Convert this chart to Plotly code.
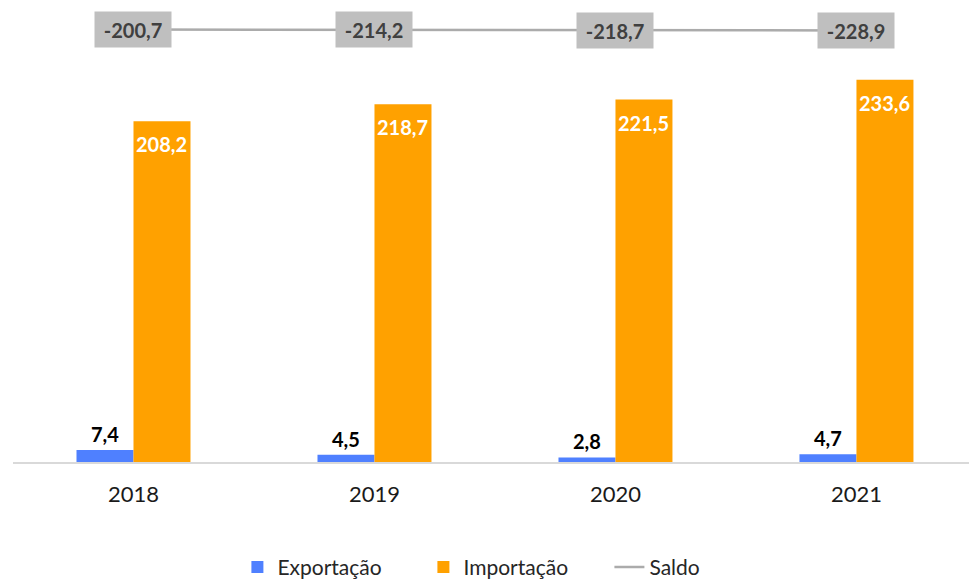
import plotly.graph_objects as go

# Balança comercial (valores por ano)
anos = ["2018", "2019", "2020", "2021"]
exportacao = [7.4, 4.5, 2.8, 4.7]
importacao = [208.2, 218.7, 221.5, 233.6]
saldo = [-200.7, -214.2, -218.7, -228.9]

AZUL = "#4F80FF"
LARANJA = "#FFA100"
CINZA_LINHA = "#ABABAB"
CINZA_CAIXA = "#BFBFBF"
FONTE = "Lato"


def fmt(v):
    return f"{v:.1f}".replace(".", ",")


fig = go.Figure()

fig.add_trace(go.Bar(
    name="Exportação", x=anos, y=exportacao,
    marker=dict(color=AZUL, line=dict(width=0)),
    hoverinfo="skip",
))
fig.add_trace(go.Bar(
    name="Importação", x=anos, y=importacao,
    marker=dict(color=LARANJA, line=dict(width=0)),
    hoverinfo="skip",
))
fig.add_trace(go.Scatter(
    name="Saldo", x=anos, y=saldo, yaxis="y2", mode="lines",
    line=dict(color=CINZA_LINHA, width=2.5),
    hoverinfo="skip",
))

anotacoes = []
# rótulos de exportação acima das barras azuis
for i, v in enumerate(exportacao):
    anotacoes.append(dict(
        x=i, y=v, xref="x", yref="y", text=f"<b>{fmt(v)}</b>",
        showarrow=False, xshift=-28.5, yanchor="bottom", yshift=2,
        font=dict(family=FONTE, size=20, color="#000000"),
    ))
# rótulos de importação dentro do topo das barras laranja
for i, v in enumerate(importacao):
    anotacoes.append(dict(
        x=i, y=v, xref="x", yref="y", text=f"<b>{fmt(v)}</b>",
        showarrow=False, xshift=28.5, yanchor="middle", yshift=-23,
        font=dict(family=FONTE, size=20, color="#FFFFFF"),
    ))
# rótulos do saldo em caixas cinzentas
for i, v in enumerate(saldo):
    anotacoes.append(dict(
        x=i, y=v, xref="x", yref="y2", text=f"<b>{fmt(v)}</b>",
        showarrow=False, xanchor="center", yanchor="middle",
        width=76, height=35, bgcolor=CINZA_CAIXA, borderpad=0,
        font=dict(family=FONTE, size=20, color="#404040"),
    ))

fig.update_layout(
    width=969, height=580,
    margin=dict(l=13, r=0, t=5, b=118, autoexpand=False),
    paper_bgcolor="white", plot_bgcolor="white",
    barmode="group", bargap=0.527, bargroupgap=0,
    showlegend=True,
    legend=dict(
        orientation="h", xref="container", yref="container",
        x=0.245, xanchor="left", y=0.022, yanchor="middle",
        entrywidth=141, entrywidthmode="pixels",
        font=dict(family=FONTE, size=21, color="#262626"),
        traceorder="normal",
    ),
    xaxis=dict(
        type="category", range=[-0.5, 3.467],
        showline=True, linecolor="#D9D9D9", linewidth=2,
        showgrid=False, ticks="", ticklabelstandoff=12,
        tickfont=dict(family=FONTE, size=22, color="#1A1A1A"),
        fixedrange=True,
    ),
    yaxis=dict(
        range=[0, 279.3], showticklabels=False, showgrid=False, zeroline=False,
        showline=False, fixedrange=True,
    ),
    yaxis2=dict(
        overlaying="y", range=[-12391, 489], showticklabels=False,
        showgrid=False, zeroline=False, showline=False, fixedrange=True,
    ),
    annotations=anotacoes,
)

fig.write_html("out.html")
